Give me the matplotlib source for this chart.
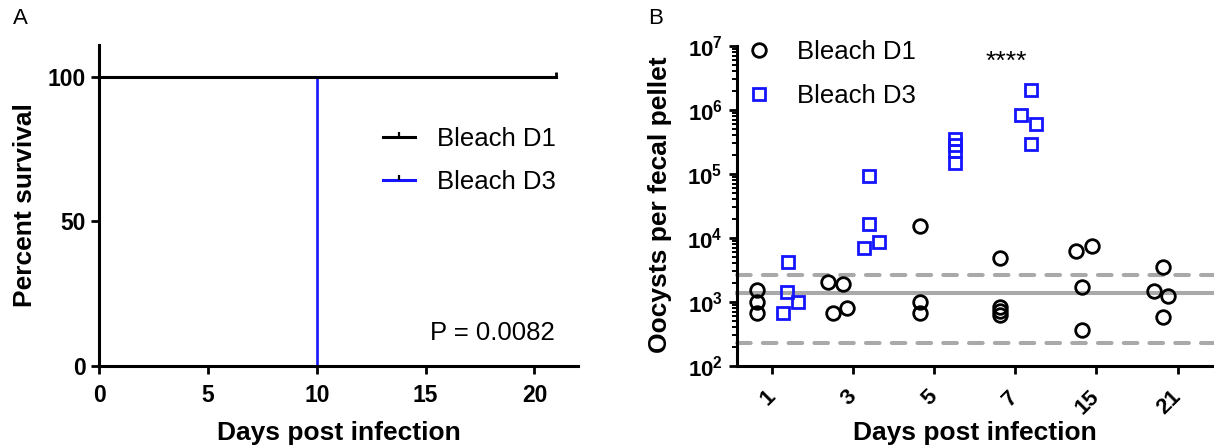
import matplotlib
matplotlib.use('Agg')
import matplotlib.pyplot as plt
import numpy as np
from matplotlib.lines import Line2D
from matplotlib.ticker import LogLocator, NullFormatter, FuncFormatter, FixedLocator

plt.rcParams['font.family'] = ['Liberation Sans', 'DejaVu Sans']
plt.rcParams['mathtext.fontset'] = 'custom'
plt.rcParams['mathtext.rm'] = 'Liberation Sans'
plt.rcParams['mathtext.bf'] = 'Liberation Sans:bold'

# ---------------- Panel A data (survival) ----------------
surv_d1_days = [0, 21]
surv_d1_pct = [100, 100]
surv_d3_days = [0, 10, 10]
surv_d3_pct = [100, 100, 0]
series_names = ['Bleach D1', 'Bleach D3']
p_value_text = 'P = 0.0082'

# ---------------- Panel B data (oocysts) ----------------
day_labels = ['1', '3', '5', '7', '15', '21']
d1_values = [
    [1540, 1010, 665],
    [2080, 1890, 665, 815],
    [15400, 1010, 681],
    [4820, 830, 720, 620],
    [6270, 7600, 1690, 365],
    [3480, 1490, 1256, 575],
]
d1_jitter = [
    [-0.19, -0.19, -0.19],
    [-0.307, -0.126, -0.244, -0.072],
    [-0.18, -0.18, -0.18],
    [-0.19, -0.19, -0.19, -0.19],
    [-0.248, -0.059, -0.177, -0.177],
    [-0.177, -0.295, -0.118, -0.177],
]
d3_values = [
    [4270, 1445, 990, 665],
    [93000, 16400, 8770, 7070],
    [355000, 285000, 230000, 147000],
    [2050000, 836000, 597000, 294000],
    [],
    [],
]
d3_jitter = [
    [0.2, 0.18, 0.325, 0.13],
    [0.2, 0.198, 0.316, 0.13],
    [0.25, 0.25, 0.25, 0.25],
    [0.195, 0.07, 0.256, 0.195],
    [],
    [],
]
baseline_mean = 1400
baseline_upper = 2650
baseline_lower = 226
sig_text = '****'
sig_day_index = 3

BLUE = '#1414ff'
GRAY = '#a9a9a9'

fig = plt.figure(figsize=(12.14, 4.48), dpi=100)
axA = fig.add_axes([0.0818, 0.183, 0.3943, 0.7165])
axB = fig.add_axes([0.6067, 0.183, 0.3933, 0.7143])

censor = [(0, 0), (0, 1)]

# ---------------- Panel A ----------------
axA.plot(surv_d3_days, surv_d3_pct, color=BLUE, lw=1.9, clip_on=False, zorder=2)
axA.plot(surv_d1_days, surv_d1_pct, color='black', lw=2.2, clip_on=False, zorder=3,
         marker=censor, markevery=[len(surv_d1_days) - 1], ms=7, mew=2.0)
axA.set_xlim(0, 22)
axA.set_ylim(0, 111)
axA.set_xticks([0, 5, 10, 15, 20])
axA.set_yticks([0, 50, 100])
for s in ['top', 'right']:
    axA.spines[s].set_visible(False)
for s in ['left', 'bottom']:
    axA.spines[s].set_linewidth(2.2)
axA.tick_params(axis='both', direction='out', length=6, width=2.0, labelsize=16.5, pad=4)
axA.tick_params(axis='x', pad=7)
for lab in axA.get_xticklabels() + axA.get_yticklabels():
    lab.set_fontweight('bold')
axA.set_xlabel('Days post infection', fontsize=19, fontweight='bold', va='center')
axA.xaxis.set_label_coords(0.5, -0.209)
axA.set_ylabel('Percent survival', fontsize=19, fontweight='bold', va='center')
axA.yaxis.set_label_coords(-0.155, 0.5)
axA.text(20.95, 11.4, p_value_text, ha='right', va='center', fontsize=18.5)

handlesA = [Line2D([], [], color='black', lw=2.2, marker=censor, ms=7, mew=1.6),
            Line2D([], [], color=BLUE, lw=2.2, marker=censor, ms=7, mew=1.6, mec='black')]
axA.legend(handlesA, series_names, loc='upper left', bbox_to_anchor=(0.593, 0.745),
           frameon=False, fontsize=18.5, handlelength=1.25, handletextpad=0.84,
           borderpad=0, borderaxespad=0, labelspacing=0.74, numpoints=1)

# ---------------- Panel B ----------------
xs1, ys1, xs3, ys3 = [], [], [], []
for i in range(len(day_labels)):
    for v, j in zip(d1_values[i], d1_jitter[i]):
        xs1.append(i + j); ys1.append(v)
    for v, j in zip(d3_values[i], d3_jitter[i]):
        xs3.append(i + j); ys3.append(v)

axB.set_yscale('log')
axB.set_ylim(1e2, 1e7)
axB.set_xlim(-0.438, 5.45)

axB.axhline(baseline_mean, color=GRAY, lw=2.9, zorder=1, clip_on=False)
for yv in (baseline_upper, baseline_lower):
    axB.axhline(yv, color=GRAY, lw=2.9, zorder=1, linestyle=(0, (3.4, 3.0)),
                dash_capstyle='round', clip_on=False)

axB.plot(xs1, ys1, linestyle='none', marker='o', ms=9.8, mfc='none', mec='black',
         mew=2.0, label=series_names[0], zorder=3)
axB.plot(xs3, ys3, linestyle='none', marker='s', ms=9.2, mfc='none', mec=BLUE,
         mew=2.0, label=series_names[1], zorder=3)

axB.text(sig_day_index - 0.11, 5.6e6, sig_text, ha='center', va='center', fontsize=19)

axB.xaxis.set_major_locator(FixedLocator(range(len(day_labels))))
axB.set_xticklabels(day_labels, rotation=45, ha='right', va='center', rotation_mode='anchor',
                    fontsize=16, fontweight='bold')
axB.yaxis.set_major_locator(LogLocator(base=10, numticks=10))
axB.yaxis.set_minor_locator(LogLocator(base=10, subs=np.arange(2, 10), numticks=20))
axB.yaxis.set_minor_formatter(NullFormatter())
axB.yaxis.set_major_formatter(FuncFormatter(lambda v, p: r'$\mathbf{10^{%d}}$' % round(np.log10(v))))
for s in ['top', 'right']:
    axB.spines[s].set_visible(False)
for s in ['left', 'bottom']:
    axB.spines[s].set_linewidth(2.2)
axB.tick_params(axis='both', which='major', direction='out', length=6, width=2.0, labelsize=16, pad=4)
axB.tick_params(axis='y', which='minor', direction='out', length=3.5, width=1.4)
axB.tick_params(axis='x', pad=14)
axB.set_xlabel('Days post infection', fontsize=19, fontweight='bold', va='center')
axB.xaxis.set_label_coords(0.5, -0.209)
axB.set_ylabel('Oocysts per fecal pellet', fontsize=19, fontweight='bold', va='center')
axB.yaxis.set_label_coords(-0.16, 0.503)
axB.legend(loc='upper left', bbox_to_anchor=(0.02, 1.02), frameon=False, fontsize=18.5,
           handlelength=1.0, handletextpad=1.0, borderpad=0, borderaxespad=0,
           labelspacing=0.78, numpoints=1)

fig.text(20 / 1214, 1 - 18 / 448, 'A', fontsize=16, ha='center', va='center')
fig.text(656 / 1214, 1 - 19 / 448, 'B', fontsize=16, ha='center', va='center')

fig.savefig('out.png', dpi=100)
